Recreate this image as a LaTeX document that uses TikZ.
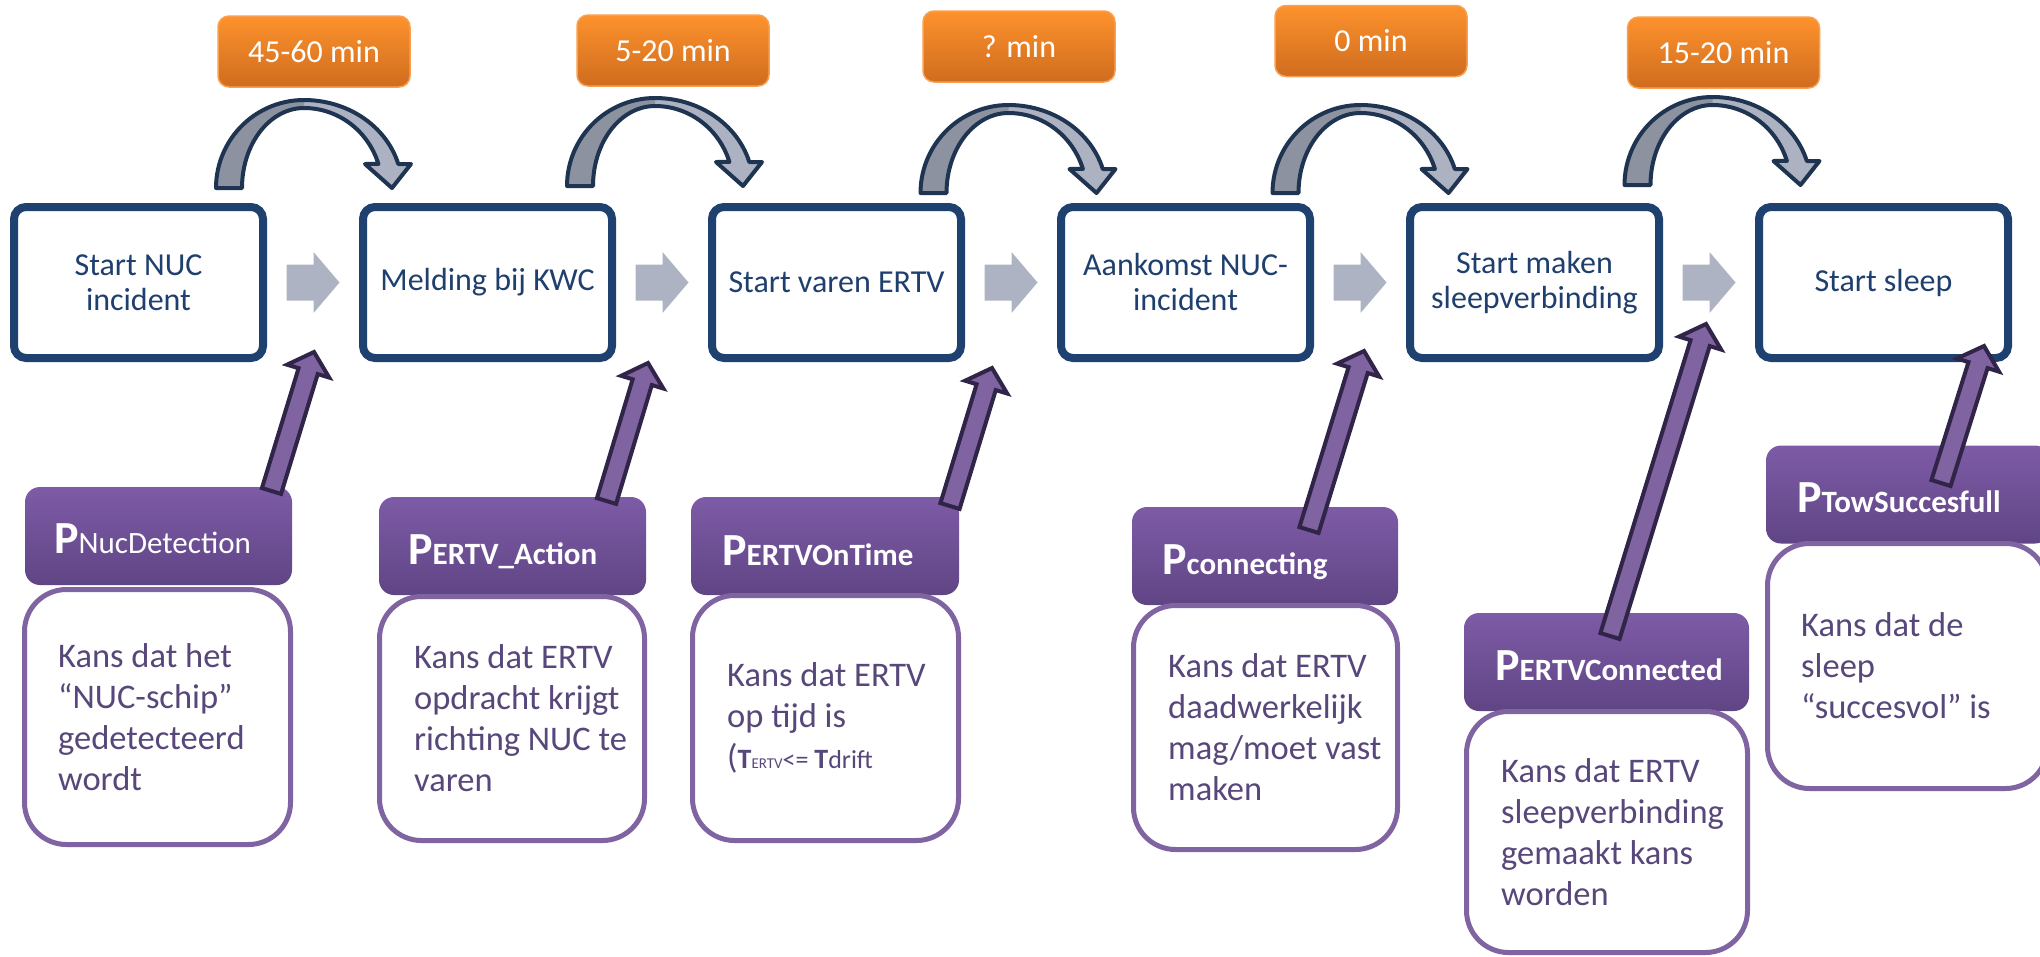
\documentclass[tikz,border=0pt]{standalone}
\usepackage{fontspec}
\setmainfont{Carlito}
\usetikzlibrary{calc}
\definecolor{boxblue}{RGB}{31,65,112}
\definecolor{txtblue}{RGB}{31,63,110}
\definecolor{grayarr}{RGB}{173,179,194}
\definecolor{cdark}{RGB}{140,146,160}
\definecolor{clight}{RGB}{172,178,194}
\definecolor{cline}{RGB}{30,52,80}
\definecolor{orTop}{RGB}{253,146,45}
\definecolor{orBot}{RGB}{207,108,30}
\definecolor{orBorder}{RGB}{249,160,80}
\definecolor{hdTop}{RGB}{125,91,166}
\definecolor{hdBot}{RGB}{96,69,133}
\definecolor{descBorder}{RGB}{128,100,162}
\definecolor{desctxt}{RGB}{88,71,122}
\definecolor{purpFill}{RGB}{128,100,162}
\definecolor{purpLine}{RGB}{48,36,72}

\newcommand{\curvarr}[2]{%
  \pgfmathsetmacro{\cax}{#1+75}%
  \pgfmathsetmacro{\cby}{#2}%
  \fill[clight] plot[domain=180:270,samples=30] ({\cax+88*cos(\x)},{\cby+88*sin(\x)})
    -- plot[domain=270:344.2,samples=30] ({\cax+98*cos(\x)},{\cby+88*sin(\x)})
    -- (\cax+107,\cby-24) -- (\cax+88,\cby) -- (\cax+61,\cby-24)
    -- plot[domain=342.5:270,samples=30] ({\cax+78*cos(\x)},{\cby+80*sin(\x)})
    -- plot[domain=270:180,samples=30] ({\cax+62*cos(\x)},{\cby+80*sin(\x)})
    -- cycle;
  \fill[cdark] plot[domain=180:270,samples=30] ({\cax+88*cos(\x)},{\cby+88*sin(\x)})
    -- plot[domain=270:180,samples=30] ({\cax+62*cos(\x)},{\cby+80*sin(\x)})
    -- cycle;
  \draw[cline,line width=4pt,line join=round] plot[domain=180:270,samples=30] ({\cax+88*cos(\x)},{\cby+88*sin(\x)})
    -- plot[domain=270:344.2,samples=30] ({\cax+98*cos(\x)},{\cby+88*sin(\x)})
    -- (\cax+107,\cby-24) -- (\cax+88,\cby) -- (\cax+61,\cby-24)
    -- plot[domain=342.5:270,samples=30] ({\cax+78*cos(\x)},{\cby+80*sin(\x)})
    -- plot[domain=270:180,samples=30] ({\cax+62*cos(\x)},{\cby+80*sin(\x)})
    -- cycle;
}

\newcommand{\parr}[2]{%
  \coordinate (hb) at ($(#2)!20pt!(#1)$);
  \filldraw[fill=purpFill,draw=purpLine,line width=4pt,line join=miter]
    ($(#1)!10pt!90:(#2)$) -- ($(hb)!10pt!90:(#2)$) -- ($(hb)!22pt!90:(#2)$) -- (#2)
    -- ($(hb)!22pt!-90:(#2)$) -- ($(hb)!10pt!-90:(#2)$) -- ($(#1)!10pt!-90:(#2)$) -- cycle;
}

\newcommand{\grayarr}[1]{%
  \fill[grayarr] ($(#1)+(-26.5,-18)$) -- ($(#1)+(0.5,-18)$) -- ($(#1)+(0.5,-30.5)$)
    -- ($(#1)+(26.5,0)$) -- ($(#1)+(0.5,30.5)$) -- ($(#1)+(0.5,18)$) -- ($(#1)+(-26.5,18)$) -- cycle;
}

\begin{document}
\begin{tikzpicture}[x=1pt,y=-1pt,
  bluebox/.style={draw=boxblue,line width=8pt,rounded corners=12pt,fill=white,
    minimum width=249pt,minimum height=151pt,inner sep=0pt,align=center,
    text=txtblue,font=\fontsize{32}{35}\selectfont},
  orbox/.style={draw=orBorder,line width=1.5pt,rounded corners=11pt,top color=orTop,bottom color=orBot,
    minimum width=192pt,minimum height=71pt,inner sep=0pt,text=white,font=\fontsize{32}{35}\selectfont},
  hdr/.style={rounded corners=15pt,top color=hdTop,bottom color=hdBot,draw=none,
    minimum height=98pt,inner sep=0pt},
  hdtext/.style={text=white,inner sep=0pt,anchor=base west},
  desc/.style={draw=descBorder,line width=5pt,fill=white,rounded corners=42pt,inner sep=0pt},
  desctext/.style={text=desctxt,inner sep=0pt,anchor=west,align=left,font=\fontsize{34.5}{41}\selectfont}
]
\useasboundingbox (0,0) rectangle (2040,956);
\fill[white] (0,0) rectangle (2040,956);
\clip (0,0) rectangle (2040,956);

% top process boxes
\node[bluebox] (b1) at (138.5,282.5) {Start NUC\\incident};
\node[bluebox] (b2) at (487.5,282.5) {Melding bij KWC};
\node[bluebox] (b3) at (836.5,282.5) {Start varen ERTV};
\node[bluebox] (b4) at (1185.5,282.5) {Aankomst NUC-\\incident};
\node[bluebox] (b5) at (1534.5,282.5) {Start maken\\sleepverbinding};
\node[bluebox] (b6) at (1883.5,282.5) {Start sleep};

% gray block arrows between boxes
\coordinate (g1) at ($(b1.east)!0.5!(b2.west)$);
\coordinate (g2) at ($(b2.east)!0.5!(b3.west)$);
\coordinate (g3) at ($(b3.east)!0.5!(b4.west)$);
\coordinate (g4) at ($(b4.east)!0.5!(b5.west)$);
\coordinate (g5) at ($(b5.east)!0.5!(b6.west)$);
\grayarr{g1}\grayarr{g2}\grayarr{g3}\grayarr{g4}\grayarr{g5}

% curved arrows
\curvarr{229}{188}
\curvarr{580}{186}
\curvarr{933.5}{193}
\curvarr{1285.5}{193}
\curvarr{1637.5}{185}

% orange time boxes
\node[orbox] (o1) at (314,51.5) {45-60 min};
\node[orbox] (o2) at (673,50.5) {5-20 min};
\node[orbox] (o3) at (1019,46.5) {? min};
\node[orbox] (o4) at (1371,41) {0 min};
\node[orbox] (o5) at (1723.5,52.5) {15-20 min};

% probability headers
\node[hdr,minimum width=267pt] (h1) at (158.5,536) {};
\node[hdr,minimum width=267pt] (h2) at (512.5,546) {};
\node[hdr,minimum width=268pt] (h3) at (825,546) {};
\node[hdr,minimum width=266pt] (h4) at (1265,556) {};
\node[hdr,minimum width=285pt] (h5) at (1606.5,662) {};
\node[hdr,minimum width=284pt] (h6) at (1908,494.5) {};

% description boxes
\node[desc,minimum width=266pt,minimum height=255pt] (d1) at (157.5,717) {};
\node[desc,minimum width=265pt,minimum height=244pt] (d2) at (512,718.5) {};
\node[desc,minimum width=266pt,minimum height=245pt] (d3) at (825.5,718) {};
\node[desc,minimum width=264pt,minimum height=244pt] (d4) at (1265.5,727.5) {};
\node[desc,minimum width=281pt,minimum height=241pt] (d5) at (1607,832) {};
\node[desc,minimum width=280pt,minimum height=245pt] (d6) at (1907.5,666) {};

% header texts
\node[hdtext] (h1t) at (54,553) {{\fontsize{46}{46}\selectfont\bfseries P}{\fontsize{31}{31}\selectfont NucDetection}};
\node[hdtext] (h2t) at (408,564) {{\fontsize{46}{46}\selectfont\bfseries P}{\fontsize{31}{31}\selectfont\bfseries ERTV\_Action}};
\node[hdtext] (h3t) at (722,565) {{\fontsize{46}{46}\selectfont\bfseries P}{\fontsize{31}{31}\selectfont\bfseries ERTVOnTime}};
\node[hdtext] (h4t) at (1162,574) {{\fontsize{46}{46}\selectfont\bfseries P}{\fontsize{31}{31}\selectfont\bfseries connecting}};
\node[hdtext] (h5t) at (1495,680) {{\fontsize{46}{46}\selectfont\bfseries P}{\fontsize{31}{31}\selectfont\bfseries ERTVConnected}};
\node[hdtext] (h6t) at (1797,512) {{\fontsize{46}{46}\selectfont\bfseries P}{\fontsize{31}{31}\selectfont\bfseries TowSuccesfull}};

% description texts
\node[desctext] (d1t) at (58,717) {Kans dat het\\“NUC-schip”\\gedetecteerd\\wordt};
\node[desctext] (d2t) at (414,718.5) {Kans dat ERTV\\opdracht krijgt\\richting NUC te\\varen};
\node[desctext] (d3t) at (727,718) {Kans dat ERTV\\op tijd is\\({\fontsize{28}{28}\selectfont\bfseries T}{\fontsize{15}{15}\selectfont ERTV}{\fontsize{26}{26}\selectfont<= }{\fontsize{28}{28}\selectfont\bfseries T}{\fontsize{26}{26}\selectfont drift}};
\node[desctext] (d4t) at (1168,727.5) {Kans dat ERTV\\daadwerkelijk\\mag/moet vast\\maken};
\node[desctext] (d5t) at (1501,832) {Kans dat ERTV\\sleepverbinding\\gemaakt kans\\worden};
\node[desctext] (d6t) at (1801,666) {Kans dat de\\sleep\\“succesvol” is};

% purple arrows from probabilities to process steps
\coordinate (t1) at (271.5,491);  \coordinate (p1) at (314,352);
\coordinate (t2) at (606.5,501);  \coordinate (p2) at (648,363);
\coordinate (t3) at (950,506);    \coordinate (p3) at (992,368);
\coordinate (t4) at (1309,530);   \coordinate (p4) at (1364,351);
\coordinate (t5) at (1610,636);   \coordinate (p5) at (1706,324);
\coordinate (t6) at (1941,483);   \coordinate (p6) at (1984,346);
\parr{t1}{p1}\parr{t2}{p2}\parr{t3}{p3}\parr{t4}{p4}\parr{t5}{p5}\parr{t6}{p6}
\end{tikzpicture}
\end{document}
